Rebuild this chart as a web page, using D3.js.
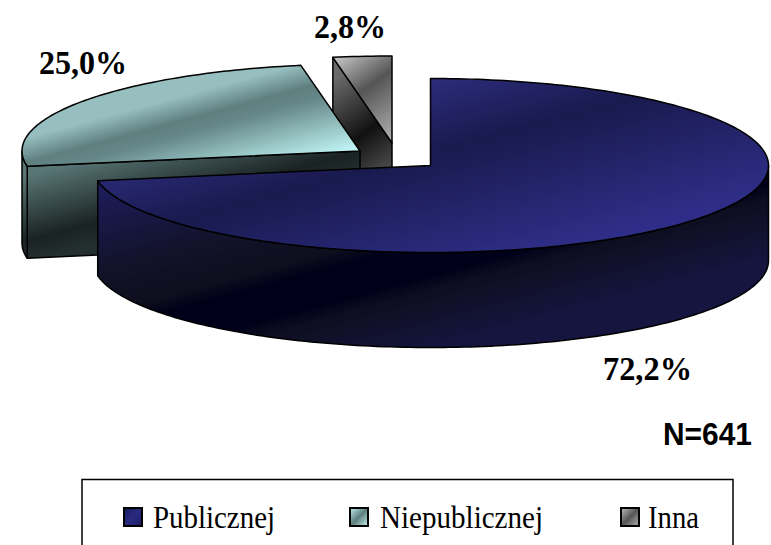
<!DOCTYPE html>
<html><head><meta charset="utf-8">
<script src="https://cdn.jsdelivr.net/npm/d3@7"></script>
<style>html,body{margin:0;padding:0;background:#fff;overflow:hidden}svg{display:block}</style>
</head><body><svg id="c" width="771" height="545"></svg>
<script>
const categories = ["Publicznej", "Niepublicznej", "Inna"];
const values = [72.2, 25.0, 2.8];
const valueLabels = ["72,2%", "25,0%", "2,8%"];
const sampleNote = "N=641";

const svg = d3.select("#c");
const defs = svg.append("defs");
const RX = 338, RY = 87;
const centers = [{x:430.5,y:165.5,d:95},{x:360,y:151,d:92},{x:392,y:143,d:95}];

const nx = 0.26, ny = 0.965;
function bandGrad(id, stops){
  const lo = stops[0][0], hi = stops[stops.length-1][0];
  const g = defs.append("linearGradient").attr("id",id).attr("gradientUnits","userSpaceOnUse")
    .attr("x1",nx*lo).attr("y1",ny*lo).attr("x2",nx*hi).attr("y2",ny*hi);
  stops.forEach(s=>g.append("stop").attr("offset",(s[0]-lo)/(hi-lo)).attr("stop-color",s[1]));
}
function lineGrad(id,x1,y1,x2,y2,stops){
  const g = defs.append("linearGradient").attr("id",id).attr("gradientUnits","userSpaceOnUse")
    .attr("x1",x1).attr("y1",y1).attr("x2",x2).attr("y2",y2);
  stops.forEach(s=>g.append("stop").attr("offset",s[0]).attr("stop-color",s[1]));
}
bandGrad("blueTop",[[187,"#2c2c7c"],[260,"#191a4e"],[385,"#2e2e88"]]);
bandGrad("blueWall",[[205,"#1d1d5c"],[288,"#12122a"],[330,"#0e0e1e"],[345,"#00001a"],[378,"#00001a"],[393,"#0e0e20"],[450,"#15153f"]]);
bandGrad("tealTop",[[140,"#97bfbf"],[164,"#5f7f7f"],[178,"#668888"],[236,"#c0f4f4"]]);
bandGrad("tealWall",[[175,"#5a7777"],[240,"#1a2222"],[262,"#243030"]]);
lineGrad("grayTop",333,58,392,143,[[0,"#c8c8c8"],[.42,"#555555"],[1,"#b4b4b4"]]);
lineGrad("grayWall",333,80,392,165,[[0,"#6a6a6a"],[.6,"#111111"],[1,"#4a4a4a"]]);
lineGrad("keyBlue",124,508,142,526,[[0,"#191a5a"],[.5,"#2a2a80"],[1,"#1c1c60"]]);
lineGrad("keyTeal",350,508,368,526,[[0,"#c0f0f0"],[.5,"#5f7f7f"],[1,"#c0f0f0"]]);
lineGrad("keyGray",621,508,639,526,[[0,"#c0c0c0"],[.5,"#555555"],[1,"#b0b0b0"]]);

const pie = d3.pie().sort(null).value(d=>d)(values);
const line = d3.line();
const pt = (c,a,dz=0)=>[c.x+RX*Math.sin(a), c.y-RY*Math.cos(a)+dz];
const arcPts = (c,a0,a1,dz=0)=>{
  const n = Math.max(2,Math.ceil(Math.abs(a1-a0)/0.02));
  return d3.range(n+1).map(i=>pt(c,a0+(a1-a0)*i/n,dz));
};
const rad = d=>d*Math.PI/180;
const styles = [
  {top:"url(#blueTop)",wall:"url(#blueWall)"},
  {top:"url(#tealTop)",wall:"url(#tealWall)"},
  {top:"url(#grayTop)",wall:"url(#grayWall)"}
];
function face(pts,fill){
  svg.append("path").attr("d",line(pts)+"Z").attr("fill",fill)
    .attr("stroke","#000").attr("stroke-width",1.5).attr("stroke-linejoin","round");
}
function drawSlice(i){
  const s = pie[i], c = centers[i], st = styles[i];
  const lo = s.startAngle, hi = s.endAngle;
  if(i>0){ // the start cut of these slices faces the viewer
    face([[c.x,c.y],pt(c,lo),pt(c,lo,c.d),[c.x,c.y+c.d]],st.wall);
  }
  const w0 = Math.max(lo,rad(90)), w1 = Math.min(hi,rad(270));
  if(w1>w0){
    face(arcPts(c,w0,w1).concat(arcPts(c,w1,w0,c.d)),st.wall);
  }
  face([[c.x,c.y]].concat(arcPts(c,lo,hi)),st.top);
}
[2,1,0].forEach(drawSlice);

const labelPos = [[603,380],[39,74],[314,38]];
const labelLen = [89,88,72];
svg.selectAll("text.val").data(valueLabels).join("text").attr("class","val")
  .attr("x",(d,i)=>labelPos[i][0]).attr("y",(d,i)=>labelPos[i][1])
  .attr("textLength",(d,i)=>labelLen[i]).attr("lengthAdjust","spacingAndGlyphs")
  .attr("font-family","'Liberation Serif',serif")
  .attr("font-weight","bold").attr("font-size",34).attr("fill","#000").text(d=>d);

svg.append("text").attr("x",663).attr("y",445)
  .attr("textLength",89).attr("lengthAdjust","spacingAndGlyphs")
  .attr("font-family","'Liberation Sans',sans-serif").attr("font-weight","bold")
  .attr("font-size",32).attr("fill","#000").text(sampleNote);

svg.append("rect").attr("x",82).attr("y",479.5).attr("width",651).attr("height",90)
  .attr("fill","#fff").attr("stroke","#000").attr("stroke-width",1.5);
const keyX = [124,350,621], textX = [153,380,648], textLen = [122,163,51],
      keyFill = ["url(#keyBlue)","url(#keyTeal)","url(#keyGray)"];
const lg = svg.selectAll("g.lg").data(categories).join("g").attr("class","lg");
lg.append("rect").attr("x",(d,i)=>keyX[i]).attr("y",508).attr("width",18).attr("height",18)
  .attr("fill",(d,i)=>keyFill[i]).attr("stroke","#000").attr("stroke-width",2);
lg.append("text").attr("x",(d,i)=>textX[i]).attr("y",528)
  .attr("textLength",(d,i)=>textLen[i]).attr("lengthAdjust","spacingAndGlyphs")
  .attr("font-family","'Liberation Serif',serif").attr("font-size",32).attr("fill","#000").text(d=>d);
</script></body></html>
